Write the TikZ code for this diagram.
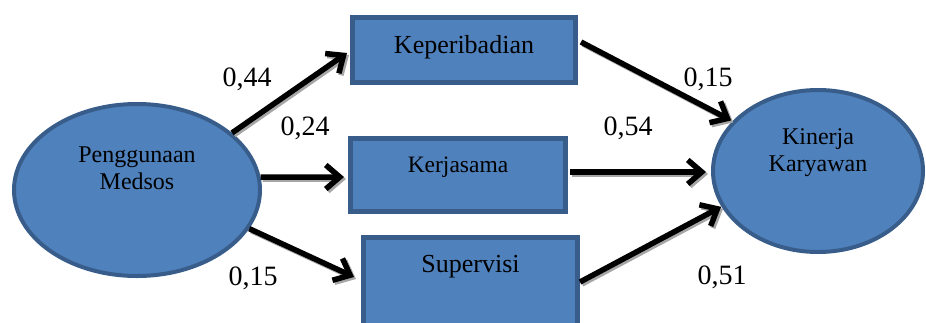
\documentclass[tikz,border=0pt]{standalone}
\usepackage{fontspec}
\setmainfont{Liberation Serif}
\usetikzlibrary{arrows.meta,shapes.geometric}
\definecolor{fillblue}{HTML}{4F81BD}
\definecolor{edgeblue}{HTML}{385D8A}
\definecolor{shadowgray}{HTML}{A6A6A6}
\tikzset{
  construct/.style={ellipse, draw=edgeblue, fill=fillblue, line width=4pt, inner sep=0pt},
  indicator/.style={rectangle, draw=edgeblue, fill=fillblue, line width=5pt, inner sep=0pt},
  boxtext/.style={font=\fontsize{26}{30}\selectfont},
  kerjatext/.style={font=\fontsize{23.5}{27}\selectfont},
  ovaltext/.style={font=\fontsize{24}{27}\selectfont, align=center},
  coef/.style={font=\fontsize{28}{32}\selectfont},
  path arrow/.style={line width=5.5pt, -{Straight Barb[length=14pt,width=24pt]}},
  path shadow/.style={path arrow, draw=shadowgray, transform canvas={shift={(2pt,-2pt)}}},
}
% a path arrow with its grey drop shadow
\newcommand\pathlink[2]{%
  \draw[path shadow] #1 -- #2;
  \draw[path arrow] #1 -- #2;}

\begin{document}
\begin{tikzpicture}[x=1pt,y=-1pt]
  \useasboundingbox (0,0) rectangle (926,322);
  \clip (0,0) rectangle (926,322);

  % latent variables
  \node[construct, minimum width=246pt, minimum height=172pt] (pm) at (137,190) {};
  \node[ovaltext] at ([yshift=22pt]pm.center) {Penggunaan\\Medsos};
  \node[construct, minimum width=210pt, minimum height=162pt] (kk) at (818,171) {};
  \node[ovaltext] at ([yshift=18pt]kk.center) {Kinerja\\Karyawan};

  % mediating variables
  \node[indicator, minimum width=223pt, minimum height=65pt] (kep) at (464,50) {};
  \node[boxtext] at ([yshift=3pt]kep.center) {Keperibadian};
  \node[indicator, minimum width=215pt, minimum height=73pt] (kerja) at (458,175) {};
  \node[kerjatext] at ([yshift=8pt]kerja.center) {Kerjasama};
  \node[indicator, minimum width=214pt, minimum height=90pt] (sup) at (470.5,282) {};
  \node[boxtext] at ([yshift=15pt]sup.center) {Supervisi};

  % paths
  \pathlink{(pm.31.5)}{([shift={(-3pt,-3pt)}]kep.west)}
  \pathlink{(pm.6)}{([shift={(-4pt,-2pt)}]kerja.west)}
  \pathlink{(pm.-19)}{([shift={(-7pt,5pt)}]sup.west)}
  \pathlink{([shift={(3pt,8pt)}]kep.east)}{([shift={(-1pt,1pt)}]kk.150)}
  \pathlink{([shift={(2pt,3pt)}]kerja.east)}{([shift={(-5pt,-1pt)}]kk.west)}
  \pathlink{(sup.east)}{([shift={(-1pt,1pt)}]kk.201)}

  % path coefficients
  \node[coef] at (247,79) {0,44};
  \node[coef] at (305,128) {0,24};
  \node[coef] at (253,278) {0,15};
  \node[coef] at (708,79) {0,15};
  \node[coef] at (628,128) {0,54};
  \node[coef] at (722,277) {0,51};
\end{tikzpicture}
\end{document}
